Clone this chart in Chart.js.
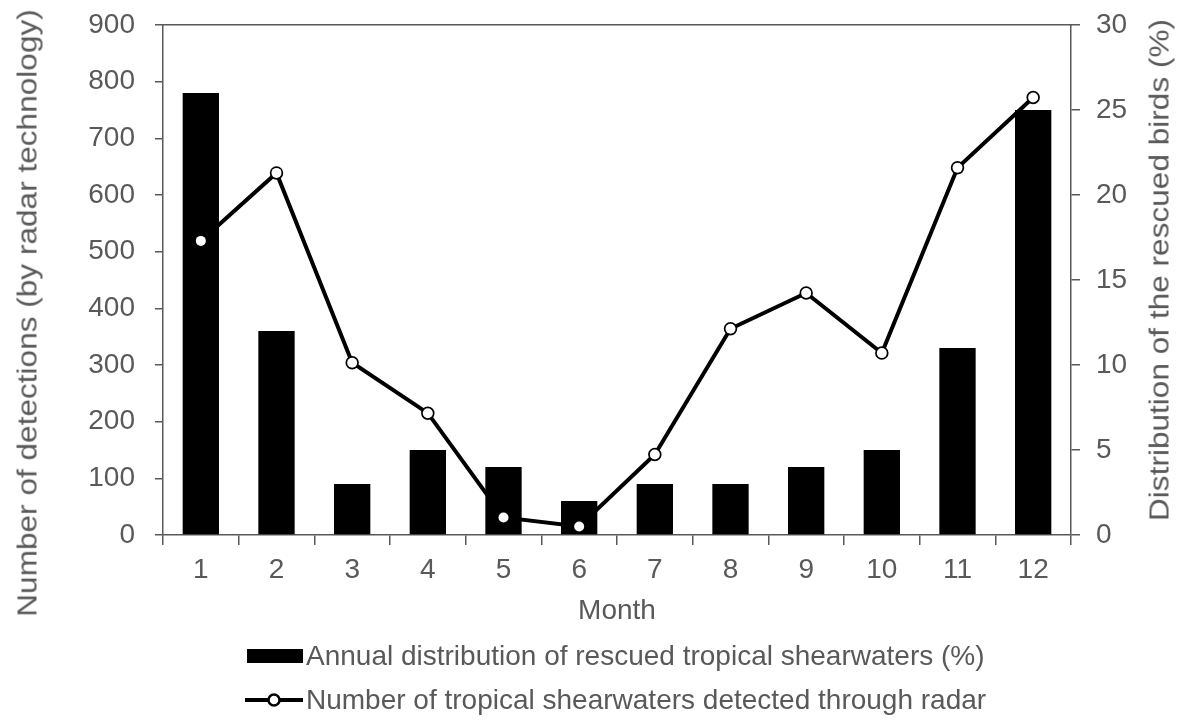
<!DOCTYPE html>
<html>
<head>
<meta charset="utf-8">
<script src="https://cdn.jsdelivr.net/npm/chart.js@4"></script>
<style>
    body { margin: 0; background: #fff; }
    #wrap { position: relative; width: 1179px; height: 720px; overflow: hidden; font-family: "Liberation Sans", Arial, sans-serif; color: #595959; }
    canvas { position: absolute; left: 0; top: 0; }
    .ytitle { position: absolute; white-space: nowrap; font-size: 27px; transform: translate(-50%, -50%) rotate(-90deg) scaleX(1.17); }
    .legend-row { position: absolute; left: 245px; display: flex; align-items: center; font-size: 28px; white-space: nowrap; }
    .legend-row svg { margin-right: 3px; }
</style>
</head>
<body>
<div id="wrap">
    <canvas id="chart" width="1179" height="720"></canvas>
    <div class="ytitle" style="left:28px; top:313px;">Number of detections (by radar technology)</div>
    <div class="ytitle" style="left:1160px; top:270px;">Distribution of the rescued birds (%)</div>
    <div class="legend-row" style="top:640px;">
        <svg width="58" height="16"><rect x="2" y="1" width="56" height="14" fill="#000"/></svg>
        <span>Annual distribution of rescued tropical shearwaters (%)</span>
    </div>
    <div class="legend-row" style="top:684px;">
        <svg width="58" height="16"><line x1="0" y1="8" x2="58" y2="8" stroke="#000" stroke-width="4"/><circle cx="29" cy="8" r="5.5" fill="#fff" stroke="#000" stroke-width="2.5"/></svg>
        <span>Number of tropical shearwaters detected through radar</span>
    </div>
</div>
<script>
const months = ['1', '2', '3', '4', '5', '6', '7', '8', '9', '10', '11', '12'];
// % of rescued birds per month (right axis)
const rescuedPct = [26, 12, 3, 5, 4, 2, 3, 3, 4, 5, 11, 25];
// radar detections per month (left axis)
const detections = [519, 639, 304, 215, 31, 15, 142, 364, 427, 321, 648, 772];

const axisColor = '#595959';
const font = { family: '"Liberation Sans", Arial, sans-serif', size: 28 };

// fixed side widths so the plot area lands where the original has it
const fixY = width => s => { s.width = width; s.paddingTop = 0; s.paddingBottom = 0; };

new Chart(document.getElementById('chart'), {
    data: {
        labels: months,
        datasets: [{
            // white centres drawn over the bars
            type: 'line',
            data: detections,
            yAxisID: 'y',
            showLine: false,
            pointRadius: 5,
            pointBorderWidth: 0,
            pointBackgroundColor: '#fff',
            order: 1
        }, {
            type: 'bar',
            label: 'Annual distribution of rescued tropical shearwaters (%)',
            data: rescuedPct,
            yAxisID: 'y1',
            backgroundColor: '#000',
            barPercentage: 0.48,
            categoryPercentage: 1,
            order: 2
        }, {
            type: 'line',
            label: 'Number of tropical shearwaters detected through radar',
            data: detections,
            yAxisID: 'y',
            borderColor: '#000',
            borderWidth: 4,
            pointRadius: 5.5,
            pointBorderWidth: 2.5,
            pointBorderColor: '#000',
            pointBackgroundColor: '#fff',
            tension: 0,
            order: 3
        }]
    },
    options: {
        responsive: false,
        animation: false,
        devicePixelRatio: 1,
        layout: { padding: { top: 25, bottom: 90, left: 0, right: 0 } },
        plugins: { legend: { display: false }, tooltip: { enabled: false } },
        scales: {
            x: {
                type: 'category',
                position: 'bottom',
                grid: { offset: true, drawOnChartArea: false, drawTicks: true, tickLength: 10, color: axisColor, lineWidth: 1.5 },
                border: { color: axisColor, width: 1.5 },
                ticks: { color: axisColor, font, padding: 8 },
                title: { display: true, text: 'Month', color: axisColor, font, padding: { top: 0, bottom: 2 } },
                afterFit: s => { s.height = 95; }
            },
            top: {
                type: 'category',
                position: 'top',
                grid: { display: false, drawTicks: false },
                border: { color: axisColor, width: 1.5 },
                ticks: { display: false },
                afterFit: s => { s.height = 0; }
            },
            y: {
                position: 'left',
                min: 0,
                max: 900,
                ticks: { stepSize: 100, color: axisColor, font, padding: 20 },
                grid: { drawOnChartArea: false, tickLength: 8, color: axisColor, lineWidth: 1.5 },
                border: { color: axisColor, width: 1.5 },
                afterFit: fixY(163)
            },
            y1: {
                position: 'right',
                min: 0,
                max: 30,
                ticks: { stepSize: 5, color: axisColor, font, padding: 16 },
                grid: { drawOnChartArea: false, tickLength: 9, color: axisColor, lineWidth: 1.5 },
                border: { color: axisColor, width: 1.5 },
                afterFit: fixY(108)
            }
        }
    }
});
</script>
</body>
</html>
